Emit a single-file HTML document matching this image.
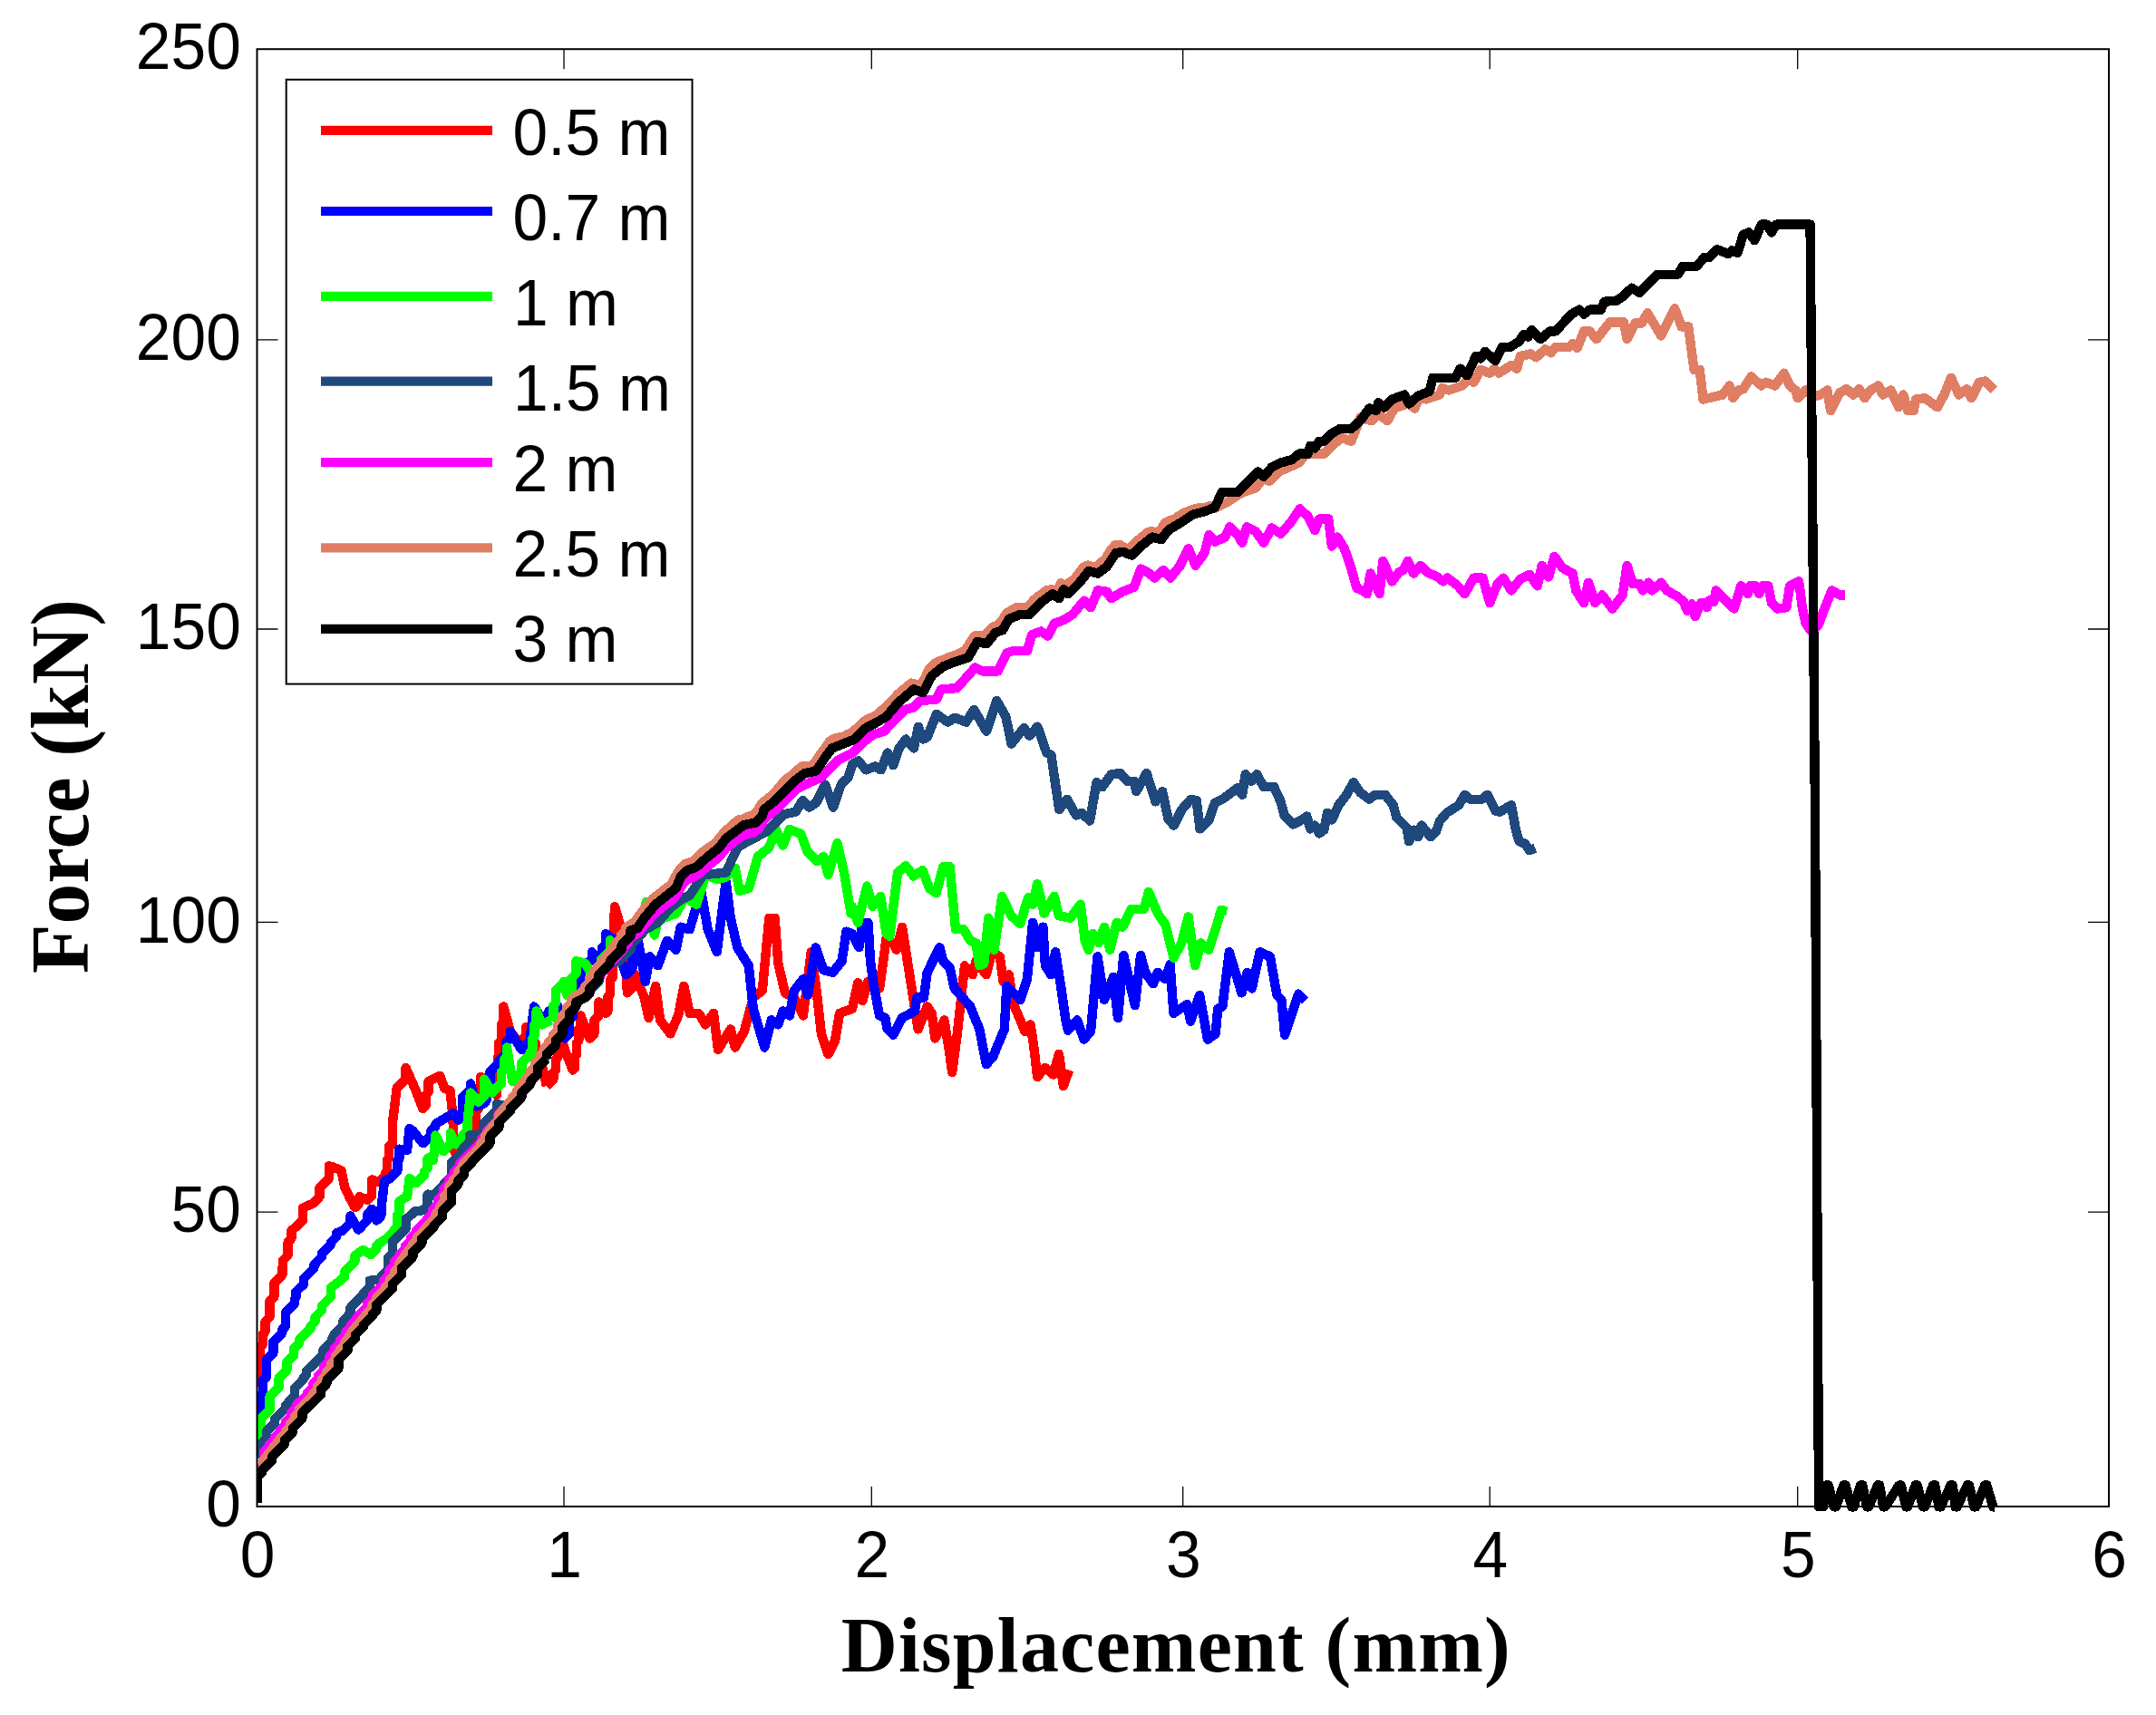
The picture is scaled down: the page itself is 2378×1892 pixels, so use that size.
<!DOCTYPE html>
<html><head><meta charset="utf-8"><title>Force vs Displacement</title>
<style>html,body{margin:0;padding:0;background:#fff}svg{display:block}.t{font-family:"Liberation Sans",Arial,sans-serif;font-size:69.5px;fill:#000}.b{font-family:"Liberation Serif","Times New Roman",serif;font-weight:bold;fill:#000}.c{fill:none;stroke-width:10.4;stroke-linejoin:round;stroke-linecap:butt}</style></head><body>
<svg width="2378" height="1892" viewBox="0 0 2378 1892">
<rect width="2378" height="1892" fill="#fff"/>
<defs><clipPath id="cp"><rect x="284.0" y="54.2" width="2062.5" height="1619.8"/></clipPath></defs>
<g clip-path="url(#cp)" shape-rendering="crispEdges">
<path class="c" stroke="#ff0000" stroke-width="11.9" d="M283.5 1521.0 L283.0 1525.5 L287.5 1485.5 L290.0 1482.9 L290.0 1471.7 L292.5 1469.2 L292.5 1457.9 L297.5 1452.9 L297.5 1435.4 L302.5 1430.4 L302.5 1415.3 L311.3 1406.6 L311.3 1405.3 L312.1 1390.3 L317.6 1384.8 L317.6 1370.2 L321.3 1366.5 L321.3 1357.7 L330.1 1350.2 L333.8 1346.4 L333.8 1332.7 L345.1 1327.7 L352.6 1320.1 L352.6 1310.1 L362.7 1300.1 L362.7 1286.3 L367.7 1287.6 L376.4 1291.3 L380.2 1310.1 L386.4 1322.7 L391.5 1332.2 L396.5 1327.2 L396.5 1320.1 L405.2 1323.9 L410.2 1318.9 L410.2 1301.4 L417.8 1303.9 L425.3 1296.4 L425.3 1293.8 L427.1 1292.0 L427.1 1279.4 L429.0 1277.6 L429.0 1265.0 L432.8 1261.3 L432.8 1240.0 L437.6 1200.6 L447.6 1190.5 L447.6 1178.0 L457.6 1200.6 L466.4 1223.1 L469.5 1220.0 L469.5 1208.1 L472.6 1204.9 L472.6 1193.0 L485.2 1186.8 L490.2 1200.6 L496.4 1203.1 L498.9 1225.6 L501.4 1270.7 L510.2 1275.7 L520.2 1265.7 L520.2 1250.6 L525.2 1245.6 L525.2 1225.6 L527.7 1223.1 L527.7 1206.8 L530.2 1204.3 L530.2 1188.0 L537.8 1190.5 L547.8 1208.1 L550.3 1150.5 L552.8 1148.0 L552.8 1130.4 L555.3 1127.9 L555.3 1110.4 L562.8 1137.9 L572.8 1150.5 L580.3 1142.9 L580.3 1132.9 L590.4 1150.5 L597.9 1175.5 L602.9 1198.1"/>
<path class="c" stroke="#ff0000" stroke-width="10.9" d="M602.9 1198.1 L610.4 1190.5 L610.4 1183.0 L612.9 1180.5 L612.9 1168.8 L615.4 1166.3 L615.4 1154.6 L617.9 1152.1 L617.9 1140.4 L622.9 1158.0 L631.7 1180.5 L633.9 1178.3 L633.9 1165.5 L636.1 1163.3 L636.1 1150.5 L638.3 1148.3 L638.3 1135.4 L640.4 1133.2 L640.4 1120.4 L650.5 1145.5 L655.5 1140.4 L655.5 1125.4 L660.5 1120.4 L660.5 1105.4 L668.0 1117.9 L670.5 1115.4 L670.5 1099.5 L673.0 1097.0 L673.0 1081.2 L675.5 1078.7 L675.5 1062.8 L678.0 1000.2 L685.5 1025.2 L690.5 1050.3 L691.8 1095.4 L700.6 1086.6 L700.6 1075.3 L710.6 1100.4 L715.6 1122.9 L723.1 1087.8 L728.1 1125.4 L739.4 1140.4 L748.1 1120.4 L754.4 1087.8 L760.7 1117.9 L770.7 1117.9 L778.2 1130.4 L787.0 1117.9 L792.0 1158.0 L805.8 1135.4 L810.8 1155.5 L820.8 1137.9 L830.8 1100.4 L840.8 1092.9 L848.3 1012.7 L854.6 1012.7 L858.3 1062.8 L865.9 1095.4 L875.9 1100.4 L885.9 1120.4 L894.7 1050.3 L900.9 1095.4 L905.9 1140.4 L913.5 1163.0 L921.0 1148.0 L926.0 1117.9 L940.0 1112.9 L946.3 1084.1 L951.3 1104.1 L957.5 1082.8 L965.0 1092.9 L970.1 1090.4 L977.6 1035.3 L985.1 1040.3 L988.8 1047.8 L995.1 1022.7 L1000.1 1055.3 L1006.4 1095.4 L1012.6 1135.4 L1022.7 1110.4 L1027.7 1117.9 L1031.4 1145.5 L1041.4 1125.4 L1046.4 1155.5 L1050.2 1183.0 L1055.2 1145.5 L1060.2 1100.4 L1064.0 1065.3 L1072.7 1075.3 L1076.5 1060.3 L1087.8 1075.3 L1094.0 1050.3 L1102.8 1055.3 L1106.6 1082.8 L1112.8 1075.3 L1117.8 1107.9 L1125.3 1125.4 L1130.4 1137.9 L1136.6 1130.4 L1140.4 1155.5 L1144.1 1188.0 L1152.9 1178.0 L1161.7 1185.5 L1167.9 1163.0 L1172.9 1198.1 L1179.2 1180.5"/>
<path class="c" stroke="#0000ff" stroke-width="11.9" d="M283.5 1553.0 L283.0 1558.1 L286.5 1554.6 L286.5 1540.6 L290.0 1537.1 L290.0 1523.0 L293.8 1519.3 L293.8 1500.5 L301.3 1493.0 L301.3 1480.4 L311.3 1470.4 L311.3 1466.7 L315.1 1462.9 L315.1 1447.9 L325.1 1437.9 L325.1 1432.9 L326.3 1431.6 L326.3 1425.3 L335.1 1416.6 L335.1 1410.3 L346.4 1399.0 L346.4 1395.3 L355.1 1386.5 L355.1 1382.8 L365.2 1372.7 L365.2 1370.2 L371.4 1364.0 L371.4 1360.2 L377.7 1357.7 L386.4 1349.0 L386.4 1341.4 L395.2 1356.5 L405.2 1346.4 L405.2 1340.2 L410.2 1333.9 L415.3 1346.4 L420.3 1341.4 L420.3 1335.2 L424.0 1302.6 L430.3 1300.1 L436.5 1293.8 L438.4 1292.0 L438.4 1280.7 L440.3 1278.8 L440.3 1267.6 L449.1 1268.8 L451.6 1245.0 L455.3 1247.5 L466.6 1261.3 L475.4 1252.5 L475.4 1247.5 L480.4 1242.5 L480.4 1240.0 L500.2 1228.1 L505.2 1235.6 L510.2 1230.6 L510.2 1210.6 L519.0 1201.8 L519.0 1195.5 L525.2 1220.6 L532.7 1218.1 L536.5 1214.3 L536.5 1200.6 L540.3 1196.8 L540.3 1183.0 L550.3 1173.0 L550.3 1170.5 L557.8 1163.0 L557.8 1150.5 L562.8 1145.5 L562.8 1137.9 L575.3 1158.0 L585.3 1148.0 L585.3 1140.4 L589.1 1110.4 L597.9 1125.4 L605.4 1117.9"/>
<path class="c" stroke="#0000ff" stroke-width="10.9" d="M605.4 1117.9 L605.4 1115.4 L615.4 1110.4 L622.9 1145.5 L627.9 1140.4 L627.9 1125.4 L632.1 1121.2 L632.1 1107.1 L636.3 1102.9 L636.3 1088.7 L640.4 1084.5 L640.4 1070.3 L653.0 1057.8 L653.0 1050.3 L660.5 1060.3 L664.2 1056.5 L664.2 1045.3 L668.0 1041.5 L668.0 1030.2 L675.5 1035.3 L685.5 1060.3 L690.5 1075.3 L697.4 1068.4 L697.4 1057.8 L704.3 1050.9 L704.3 1040.3 L711.8 1082.8 L716.8 1055.3 L725.6 1065.3 L735.6 1037.8 L745.6 1047.8 L750.6 1022.7 L760.7 1025.2 L773.2 982.7 L780.7 1025.2 L790.7 1050.3 L800.7 972.6 L805.8 1012.7 L813.3 1045.3 L825.8 1065.3 L830.8 1112.9 L843.3 1155.5 L850.8 1125.4 L858.3 1130.4 L863.4 1115.4 L870.9 1120.4 L875.9 1092.9 L885.9 1080.3 L890.9 1097.9 L899.7 1045.3 L908.4 1070.3 L918.5 1072.8 L928.5 1060.3 L933.5 1027.7 L940.0 1030.2 L947.5 1045.3 L951.3 1017.7 L957.5 1017.7 L960.0 1060.3 L963.8 1087.8 L970.1 1120.4 L976.3 1122.9 L978.8 1135.4 L985.1 1141.7 L995.1 1122.9 L1008.9 1115.4 L1011.4 1100.4 L1018.9 1100.4 L1022.7 1072.8 L1036.4 1045.3 L1040.2 1060.3 L1047.7 1067.8 L1052.7 1090.4 L1070.2 1110.4 L1080.3 1135.4 L1087.8 1174.3 L1095.3 1165.5 L1107.8 1135.4 L1110.3 1087.8 L1125.3 1102.9 L1132.9 1080.3 L1139.1 1017.7 L1144.1 1045.3 L1150.4 1022.7 L1152.9 1065.3 L1159.2 1075.3 L1164.2 1050.3 L1170.4 1090.4 L1175.4 1125.4 L1177.9 1136.7 L1188.0 1125.4 L1195.5 1146.7 L1203.0 1137.9 L1210.5 1055.3 L1218.0 1102.9 L1228.0 1077.8 L1233.0 1122.9 L1239.3 1054.0 L1251.8 1109.1 L1258.1 1054.0 L1263.1 1072.8 L1271.9 1085.3 L1276.9 1072.8 L1285.6 1080.3 L1290.6 1064.1 L1294.4 1117.9 L1309.4 1107.9 L1313.2 1126.7 L1323.2 1097.9 L1332.0 1146.7 L1340.7 1140.4 L1343.2 1112.9 L1348.3 1110.4 L1355.8 1050.3 L1369.5 1095.4 L1375.8 1072.8 L1380.8 1090.4 L1389.6 1050.3 L1400.9 1055.3 L1408.4 1097.9 L1413.4 1102.9 L1417.1 1141.7 L1432.2 1096.6 L1439.7 1104.1"/>
<path class="c" stroke="#00ff00" stroke-width="11.9" d="M283.5 1592.0 L283.0 1595.7 L285.3 1593.4 L285.3 1580.6 L287.5 1578.4 L287.5 1565.6 L297.5 1555.6 L297.5 1540.6 L307.6 1530.5 L307.6 1520.5 L316.3 1511.8 L316.3 1503.0 L323.8 1495.5 L323.8 1488.0 L330.1 1481.7 L330.1 1477.9 L342.6 1465.4 L342.6 1462.9 L347.6 1457.9 L347.6 1452.9 L355.1 1445.4 L355.1 1440.4 L365.2 1430.4 L365.2 1420.3 L375.2 1412.8 L380.2 1407.8 L380.2 1402.8 L387.7 1395.3 L391.5 1391.5 L391.5 1385.3 L400.2 1379.0 L409.0 1384.0 L415.3 1377.8 L415.3 1374.0 L427.8 1365.2 L435.3 1357.7 L435.3 1356.5 L437.8 1354.0 L437.8 1340.8 L440.3 1338.3 L440.3 1325.2 L449.1 1320.1 L451.6 1300.1 L459.1 1305.1 L467.8 1296.4 L467.8 1292.6 L471.6 1288.8 L471.6 1277.6 L477.9 1280.1 L480.4 1252.5 L489.1 1270.1 L496.7 1262.5 L496.7 1250.0 L502.9 1262.5 L510.4 1255.0 L510.4 1252.5 L515.4 1247.5 L515.4 1240.0 L519.0 1205.6 L527.7 1215.6 L534.0 1209.3 L534.0 1190.5 L542.8 1205.6 L552.8 1195.5 L552.8 1183.0 L555.9 1179.9 L555.9 1169.2 L559.0 1166.1 L559.0 1155.5 L565.3 1193.0 L575.3 1183.0 L575.3 1173.0 L585.3 1163.0 L585.3 1160.5 L587.4 1158.4 L587.4 1145.5 L589.5 1143.4 L589.5 1130.4 L591.6 1128.3 L591.6 1115.4 L597.9 1130.4 L607.9 1125.4"/>
<path class="c" stroke="#00ff00" stroke-width="10.9" d="M607.9 1125.4 L610.4 1122.9 L610.4 1109.1 L612.9 1106.6 L612.9 1092.9 L621.7 1084.1 L621.7 1082.8 L625.4 1097.9 L630.4 1092.9 L630.4 1079.1 L635.4 1074.1 L635.4 1060.3 L645.5 1062.8 L653.0 1075.3 L663.0 1065.3 L663.0 1059.0 L673.0 1049.0 L673.0 1037.3 L681.8 1050.3 L695.5 1036.5 L695.5 1028.2 L706.8 1016.7 L713.1 994.7 L718.1 1012.7 L721.8 1031.5 L725.6 1015.2 L745.6 1007.7 L755.7 990.2 L768.2 997.7 L778.2 965.1 L790.7 970.1 L800.7 967.6 L810.8 957.6 L815.8 982.7 L825.8 980.1 L835.8 945.1 L848.3 935.1 L855.8 915.0 L863.4 932.6 L870.9 915.0 L883.4 920.0 L890.9 940.1 L900.9 950.1 L908.4 945.1 L913.5 965.1 L923.5 930.1 L931.0 962.6 L938.5 1007.7 L940.0 1000.2 L946.3 1017.7 L956.3 977.6 L962.5 1000.2 L971.3 988.9 L977.6 1030.2 L981.3 1032.7 L990.1 962.6 L998.9 955.1 L1007.6 966.4 L1017.6 960.1 L1025.2 980.1 L1032.7 985.2 L1040.2 956.4 L1047.7 956.4 L1054.0 1025.2 L1062.7 1025.2 L1070.2 1037.8 L1076.5 1040.3 L1080.3 1065.3 L1085.3 1062.8 L1090.3 1012.7 L1096.5 1047.8 L1105.3 988.9 L1115.3 1010.2 L1125.3 1019.0 L1134.1 990.2 L1139.1 997.7 L1144.1 975.1 L1151.6 1007.7 L1162.9 988.9 L1167.9 1010.2 L1180.4 1012.7 L1191.7 997.7 L1196.7 1037.8 L1200.5 1047.8 L1205.5 1030.2 L1211.8 1040.3 L1218.0 1022.7 L1224.3 1047.8 L1231.8 1017.7 L1238.1 1022.7 L1248.1 1002.7 L1261.8 1002.7 L1266.9 983.9 L1276.9 1007.7 L1285.6 1020.2 L1294.4 1056.5 L1303.2 1040.3 L1310.7 1011.5 L1318.2 1065.3 L1324.5 1040.3 L1333.2 1047.8 L1340.7 1025.2 L1347.0 1003.9 L1353.3 1005.2"/>
<path class="c" stroke="#1f497d" stroke-width="11.9" d="M283.5 1604.2 L287.8 1604.2 L289.0 1592.0 L294.0 1587.0 L294.0 1579.1 L303.2 1569.9 L303.2 1565.3 L315.3 1553.2 L315.3 1550.3 L321.0 1544.0 L325.1 1539.9 L325.1 1531.5 L334.5 1522.1 L334.5 1520.2 L337.7 1517.0 L337.7 1512.7 L345.8 1505.2 L356.1 1494.9 L356.1 1490.1 L365.9 1480.3 L365.9 1477.6 L369.2 1471.3 L378.4 1462.1 L378.4 1457.5 L384.7 1451.2 L384.7 1450.0 L386.4 1448.3 L386.4 1442.9 L400.2 1429.1 L400.2 1427.8 L407.7 1420.3 L407.7 1412.8 L417.8 1411.6 L427.8 1401.5 L427.8 1387.8 L432.8 1382.8 L432.8 1370.2 L440.3 1362.7 L447.8 1355.2 L447.8 1345.2 L457.8 1336.4 L466.6 1335.2 L471.6 1330.2 L471.6 1317.6 L477.9 1318.9 L490.4 1306.4 L490.4 1305.1 L497.9 1297.6 L497.9 1282.6 L510.4 1270.1 L510.4 1267.6 L517.9 1260.0 L517.9 1252.5 L528.0 1252.5 L533.0 1247.5 L533.0 1240.0 L547.8 1225.2 L547.8 1218.1 L562.8 1220.6 L575.3 1208.1 L575.3 1203.1 L584.1 1194.3 L584.1 1189.3 L592.9 1180.5 L592.9 1175.5 L602.9 1165.5"/>
<path class="c" stroke="#1f497d" stroke-width="10.9" d="M602.9 1165.5 L602.9 1160.5 L612.9 1150.5 L612.9 1145.5 L620.4 1137.9 L620.4 1130.4 L627.9 1122.9 L627.9 1115.4 L645.5 1097.9 L660.5 1082.8 L660.5 1075.3 L673.0 1062.8 L683.0 1060.3 L695.5 1047.8 L695.5 1042.8 L708.1 1030.2 L708.1 1027.7 L725.6 1017.7 L738.1 1002.7 L750.6 992.7 L760.7 987.7 L775.7 965.1 L788.2 963.9 L800.7 962.6 L813.3 935.1 L825.8 927.6 L845.8 917.5 L863.4 900.0 L865.1 898.1 L877.6 895.6 L885.2 883.1 L892.7 890.6 L900.2 885.6 L910.2 865.6 L919.0 890.6 L927.7 865.6 L935.3 858.1 L940.3 843.0 L946.5 839.3 L955.3 849.3 L965.3 845.5 L971.6 849.3 L979.1 830.5 L985.3 844.3 L991.6 825.5 L999.1 815.5 L1007.9 825.5 L1012.9 801.7 L1017.9 815.5 L1022.9 813.0 L1032.9 787.9 L1045.5 796.7 L1053.0 791.7 L1065.5 796.7 L1074.3 782.9 L1088.0 806.7 L1099.3 772.9 L1109.3 790.4 L1115.6 820.5 L1129.4 802.9 L1135.6 811.7 L1144.4 801.7 L1154.4 830.5 L1159.4 833.0 L1168.2 893.1 L1176.9 881.8 L1187.0 899.4 L1193.2 896.9 L1202.0 905.6 L1209.5 863.1 L1215.8 868.1 L1225.8 854.3 L1235.8 853.0 L1243.3 861.8 L1250.8 861.8 L1253.3 873.1 L1264.6 853.0 L1274.6 884.4 L1282.1 873.1 L1288.4 903.1 L1294.7 910.6 L1303.4 893.1 L1313.5 881.8 L1319.7 883.1 L1323.5 914.4 L1333.5 904.4 L1340.0 885.6 L1350.0 880.6 L1365.0 869.3 L1370.1 876.8 L1373.8 854.3 L1380.1 861.8 L1386.3 854.3 L1393.8 868.1 L1405.1 868.1 L1412.6 884.4 L1416.4 899.4 L1426.4 909.4 L1433.9 905.6 L1441.4 900.6 L1445.2 914.4 L1450.2 910.6 L1455.2 919.4 L1460.2 915.7 L1464.0 896.9 L1469.0 904.4 L1476.5 888.1 L1485.3 876.8 L1492.8 863.1 L1500.3 874.3 L1510.3 881.8 L1516.6 876.8 L1527.8 876.8 L1536.6 888.1 L1540.4 901.9 L1551.6 913.2 L1554.1 928.2 L1559.2 915.7 L1564.2 923.2 L1567.9 910.6 L1577.9 923.2 L1584.2 916.9 L1588.0 905.6 L1595.5 896.9 L1609.2 888.1 L1615.5 876.8 L1621.8 881.8 L1634.3 881.8 L1640.6 876.8 L1649.3 894.4 L1654.3 895.6 L1666.9 888.1 L1671.9 915.7 L1675.6 928.2 L1681.9 930.7 L1686.9 938.2 L1693.2 935.7"/>
<path class="c" stroke="#ff00ff" stroke-width="11.9" d="M283.5 1620.0 L287.5 1620.0 L291.0 1616.5 L291.0 1601.4 L297.0 1595.4 L297.0 1593.5 L303.0 1587.5 L303.0 1585.7 L309.0 1579.7 L309.0 1577.4 L315.0 1571.4 L315.0 1568.6 L321.0 1562.6 L321.0 1558.9 L327.0 1552.9 L327.0 1550.3 L333.0 1544.4 L339.0 1538.4 L339.0 1536.9 L345.0 1530.9 L345.0 1527.3 L351.0 1521.3 L351.0 1518.0 L357.0 1512.0 L357.0 1507.8 L363.0 1501.8 L363.0 1497.3 L369.0 1491.3 L369.0 1487.7 L375.0 1481.7 L375.0 1478.7 L381.0 1472.7 L381.0 1469.8 L387.0 1463.8 L387.0 1461.8 L393.0 1455.8 L393.0 1454.5 L399.0 1447.6 L405.0 1441.6 L405.0 1437.9 L411.0 1431.9 L411.0 1428.4 L417.0 1422.4 L423.0 1416.4 L423.0 1412.5 L429.0 1406.5 L429.0 1402.2 L435.0 1396.2 L435.0 1391.8 L441.0 1385.8 L441.0 1383.4 L447.0 1377.4 L447.0 1375.0 L453.0 1369.0 L453.0 1366.0 L459.0 1360.0 L459.0 1357.8 L465.0 1351.8 L471.0 1345.8 L471.0 1344.7 L477.0 1338.7 L477.0 1335.2 L483.0 1329.2 L483.0 1324.2 L489.0 1318.2 L489.0 1311.6 L495.0 1305.6 L495.0 1301.9 L501.0 1295.9 L501.0 1292.9 L507.0 1286.9 L507.0 1283.9 L513.0 1277.5 L519.0 1271.9 L525.0 1266.3 L531.0 1260.3 L531.0 1256.5 L537.0 1250.5 L537.0 1247.8 L543.0 1242.3 L549.0 1236.3 L549.0 1230.3 L555.0 1223.7 L561.0 1217.7 L561.0 1216.6 L567.0 1210.6 L567.0 1208.8 L573.0 1202.8 L573.0 1201.2 L579.0 1194.3 L585.0 1188.3 L585.0 1185.4 L591.0 1179.4 L591.0 1174.6 L597.0 1168.6 L597.0 1166.2 L603.0 1160.2"/>
<path class="c" stroke="#ff00ff" stroke-width="10.9" d="M603.0 1160.2 L603.0 1157.8 L609.0 1151.8 L609.0 1149.5 L615.0 1143.5 L615.0 1139.3 L621.0 1133.3 L621.0 1128.0 L627.0 1122.0 L627.0 1116.8 L633.0 1110.8 L633.0 1107.5 L639.0 1102.9 L645.0 1100.3 L651.0 1094.3 L651.0 1089.7 L657.0 1083.7 L657.0 1081.7 L663.0 1075.7 L663.0 1074.5 L669.0 1068.2 L675.0 1061.4 L681.0 1055.4 L681.0 1053.8 L687.0 1047.8 L687.0 1046.0 L693.0 1040.0 L693.0 1036.9 L699.0 1032.2 L705.0 1028.6 L711.0 1020.3 L717.0 1013.7 L723.0 1006.9 L729.0 1002.2 L735.0 997.5 L741.0 993.2 L747.0 986.4 L753.0 975.1 L759.0 969.8 L765.0 967.6 L771.0 964.0 L777.0 958.6 L783.0 953.5 L789.0 948.8 L795.0 943.1 L801.0 935.4 L807.0 930.9 L813.0 926.4 L819.0 922.0 L825.0 919.8 L831.0 918.7 L837.0 914.5 L843.0 903.5 L849.0 898.8 L855.0 894.0 L861.0 888.1 L867.0 882.1 L873.0 876.2 L879.0 870.5 L887.7 865.6 L905.2 858.1 L917.7 845.5 L925.2 838.0 L940.3 830.5 L950.3 820.5 L962.8 810.5 L975.3 806.7 L985.3 795.4 L997.9 782.9 L1007.9 780.4 L1015.4 772.9 L1032.9 771.6 L1037.9 760.4 L1055.5 759.1 L1065.5 747.8 L1075.5 736.6 L1083.0 740.3 L1100.6 740.3 L1110.6 720.3 L1118.1 717.8 L1133.1 717.8 L1138.1 700.3 L1148.1 696.5 L1155.7 701.5 L1163.2 687.7 L1173.2 684.0 L1183.2 677.7 L1195.7 662.7 L1203.2 670.2 L1210.8 651.4 L1220.8 652.7 L1225.8 660.2 L1238.3 652.7 L1250.8 647.7 L1258.3 627.6 L1265.9 631.4 L1273.4 637.6 L1283.4 628.9 L1290.9 637.6 L1300.9 625.1 L1310.9 605.1 L1318.5 623.9 L1328.5 610.1 L1333.5 590.1 L1340.0 597.6 L1351.3 592.6 L1356.3 581.3 L1365.0 590.1 L1370.1 598.8 L1375.1 581.3 L1385.1 586.3 L1393.8 598.8 L1402.6 582.5 L1412.6 588.8 L1422.7 577.5 L1433.9 561.3 L1442.7 570.0 L1450.2 585.0 L1455.2 572.5 L1465.2 572.5 L1469.0 602.6 L1475.3 592.6 L1482.8 605.1 L1489.0 622.6 L1496.5 648.9 L1502.8 651.4 L1507.8 655.2 L1511.6 632.6 L1517.8 645.2 L1521.6 655.2 L1525.3 618.9 L1535.4 641.4 L1542.9 631.4 L1547.9 628.9 L1552.9 618.9 L1559.2 632.6 L1566.7 623.9 L1574.2 631.4 L1585.5 636.4 L1591.7 641.4 L1596.7 637.6 L1608.0 646.4 L1615.5 655.2 L1625.5 637.6 L1635.5 637.6 L1643.1 665.2 L1651.8 643.9 L1658.1 637.6 L1666.9 651.4 L1676.9 638.9 L1686.9 633.9 L1695.7 646.4 L1700.7 623.9 L1708.2 636.4 L1714.4 613.8 L1723.2 626.4 L1734.5 632.6 L1738.2 651.4 L1747.0 665.2 L1752.0 642.7 L1759.5 665.2 L1767.0 656.4 L1778.3 671.5 L1789.6 656.4 L1794.6 623.9 L1800.9 643.9 L1808.4 643.9 L1812.1 651.4 L1818.4 642.7 L1822.1 651.4 L1832.2 642.7 L1838.4 651.4 L1849.7 657.7 L1857.2 663.9 L1861.0 674.0 L1866.0 666.4 L1869.7 680.2 L1876.0 665.2 L1880.0 665.2 L1882.7 670.2 L1885.2 662.7 L1890.2 663.9 L1892.7 651.4 L1912.7 671.5 L1920.2 646.4 L1927.7 655.2 L1930.2 646.4 L1936.5 646.4 L1940.3 655.2 L1944.0 646.4 L1950.3 646.4 L1954.0 665.2 L1960.3 671.5 L1970.3 670.2 L1974.1 646.4 L1984.1 641.4 L1987.8 670.2 L1991.6 687.7 L1997.9 696.5 L2005.4 690.2 L2012.9 670.2 L2020.4 651.4 L2029.2 656.4 L2035.4 656.4"/>
<path class="c" stroke="#e07e64" stroke-width="11.9" d="M283.5 1625.5 L286.5 1625.5 L290.0 1622.0 L290.0 1612.2 L295.0 1605.3 L300.0 1598.7 L305.0 1592.2 L310.0 1585.7 L315.0 1580.7 L315.0 1578.4 L320.0 1573.4 L320.0 1571.0 L325.0 1566.0 L325.0 1562.9 L330.0 1557.9 L330.0 1555.0 L335.0 1550.0 L340.0 1545.1 L345.0 1540.1 L345.0 1537.7 L350.0 1532.7 L350.0 1529.7 L355.0 1524.7 L355.0 1522.0 L360.0 1517.0 L360.0 1513.6 L365.0 1508.6 L365.0 1504.9 L370.0 1499.9 L370.0 1496.1 L375.0 1491.1 L375.0 1488.6 L380.0 1483.6 L380.0 1481.2 L385.0 1476.2 L385.0 1473.7 L390.0 1466.8 L395.0 1460.7 L400.0 1454.8 L405.0 1449.1 L410.0 1444.1 L410.0 1439.8 L415.0 1434.8 L415.0 1432.1 L420.0 1427.1 L425.0 1422.1 L425.0 1419.9 L430.0 1414.9 L430.0 1411.5 L435.0 1406.5 L435.0 1402.8 L440.0 1397.8 L440.0 1394.3 L445.0 1387.3 L450.0 1380.3 L455.0 1375.3 L455.0 1372.9 L460.0 1367.9 L460.0 1365.4 L465.0 1359.5 L470.0 1354.4 L475.0 1348.4 L480.0 1343.4 L480.0 1340.1 L485.0 1335.1 L485.0 1331.2 L490.0 1326.2 L490.0 1320.0 L495.0 1315.0 L495.0 1309.2 L500.0 1304.2 L500.0 1301.7 L505.0 1296.7 L505.0 1293.3 L510.0 1288.3 L510.0 1285.5 L515.0 1279.7 L520.0 1274.5 L525.0 1269.5 L530.0 1264.5 L530.0 1262.2 L535.0 1257.2 L535.0 1253.4 L540.0 1247.0 L545.0 1240.5 L550.0 1235.5 L550.0 1230.3 L555.0 1224.2 L560.0 1218.0 L565.0 1213.0 L565.0 1210.9 L570.0 1205.9 L570.0 1203.8 L575.0 1197.2 L580.0 1190.9 L585.0 1185.9 L585.0 1182.0 L590.0 1177.0 L590.0 1172.4 L595.0 1167.4 L595.0 1164.8 L600.0 1159.8 L600.0 1157.2 L605.0 1152.2"/>
<path class="c" stroke="#e07e64" stroke-width="10.9" d="M605.0 1152.2 L605.0 1149.6 L610.0 1144.6 L610.0 1141.5 L615.0 1136.5 L615.0 1131.4 L620.0 1126.4 L620.0 1121.3 L625.0 1116.3 L625.0 1111.6 L630.0 1106.6 L630.0 1103.1 L635.0 1098.7 L640.0 1096.2 L645.0 1091.2 L645.0 1088.4 L650.0 1083.4 L650.0 1080.0 L655.0 1075.0 L655.0 1072.4 L660.0 1065.9 L665.0 1059.9 L670.0 1053.7 L675.0 1046.7 L680.0 1039.7 L685.0 1034.7 L685.0 1031.9 L690.0 1026.9 L690.0 1023.8 L695.0 1020.1 L700.0 1017.4 L705.0 1009.8 L710.0 1003.4 L715.0 997.2 L720.0 991.3 L725.0 987.5 L730.0 983.8 L735.0 979.7 L740.0 976.0 L745.0 967.0 L750.0 958.7 L755.0 953.5 L760.0 951.7 L765.0 950.4 L770.0 944.9 L775.0 940.0 L780.0 936.3 L785.0 933.2 L790.0 929.0 L795.0 922.5 L800.0 917.1 L805.0 912.5 L810.0 907.8 L815.0 904.4 L820.0 903.5 L825.0 900.8 L830.0 899.5 L835.0 895.6 L840.0 886.5 L845.0 882.6 L850.0 878.4 L855.0 874.0 L860.0 867.7 L865.0 861.8 L870.0 857.4 L875.0 854.3 L880.0 848.9 L885.0 845.2 L890.0 845.0 L895.0 844.5 L900.0 839.7 L905.0 832.0 L910.0 825.7 L915.0 817.8 L920.0 814.8 L925.0 813.5 L930.0 813.3 L935.0 810.0 L940.0 807.8 L945.0 803.4 L950.0 798.6 L955.0 794.5 L960.0 791.9 L965.0 790.3 L970.0 785.6 L975.0 781.6 L980.0 776.4 L985.0 772.1 L990.0 766.1 L995.0 761.9 L1000.0 758.0 L1005.0 753.6 L1010.0 754.8 L1015.0 756.5 L1020.0 748.4 L1025.0 737.6 L1030.0 732.7 L1035.0 729.6 L1040.0 728.1 L1045.0 725.7 L1050.0 723.8 L1055.0 722.3 L1060.0 720.0 L1065.0 717.4 L1070.0 708.8 L1075.0 701.6 L1080.0 701.3 L1085.0 701.9 L1090.0 696.5 L1095.0 691.5 L1100.0 689.9 L1105.0 685.1 L1110.0 676.7 L1115.0 673.6 L1120.0 670.6 L1125.0 669.8 L1130.0 671.4 L1135.0 667.8 L1140.0 662.2 L1145.0 658.0 L1150.0 654.5 L1155.0 651.0 L1160.0 650.3 L1165.0 654.0 L1170.0 643.3 L1175.0 646.6 L1180.0 642.3 L1185.0 639.1 L1190.0 632.4 L1195.0 625.7 L1200.0 623.6 L1205.0 625.5 L1210.0 624.3 L1215.0 620.3 L1220.0 615.6 L1225.0 606.9 L1230.0 601.2 L1235.0 600.8 L1240.0 604.2 L1245.0 605.3 L1250.0 600.5 L1255.0 596.1 L1260.0 592.2 L1265.0 587.8 L1270.0 585.8 L1275.0 588.0 L1280.0 584.8 L1285.0 577.0 L1290.0 574.3 L1295.0 572.9 L1300.0 569.3 L1305.0 566.5 L1310.0 564.1 L1315.0 562.2 L1320.0 560.8 L1325.0 559.8 L1330.0 559.8 L1335.0 557.7 L1340.0 560.7 L1355.0 553.2 L1370.1 543.2 L1385.1 538.2 L1392.6 528.2 L1400.1 530.7 L1410.1 520.6 L1432.7 510.6 L1440.2 500.6 L1460.2 500.6 L1470.2 490.6 L1480.3 483.1 L1490.3 486.8 L1497.8 468.1 L1500.3 460.5 L1512.8 464.3 L1520.3 456.8 L1530.4 464.3 L1537.9 450.5 L1552.9 445.5 L1560.4 450.5 L1565.4 438.0 L1572.9 440.5 L1588.0 435.5 L1590.5 428.0 L1598.0 430.5 L1613.0 425.5 L1620.5 416.7 L1625.5 421.7 L1633.0 407.9 L1643.1 411.7 L1648.1 406.7 L1653.1 411.7 L1666.9 402.9 L1673.1 406.7 L1676.9 392.9 L1688.1 390.4 L1694.4 394.2 L1704.4 385.4 L1710.7 389.2 L1715.7 382.9 L1730.7 382.9 L1734.5 379.1 L1739.5 384.1 L1747.0 365.4 L1753.3 365.4 L1760.8 374.1 L1775.8 355.3 L1790.8 355.3 L1794.6 374.1 L1803.4 356.6 L1810.9 356.6 L1817.1 345.3 L1832.2 370.4 L1847.2 340.3 L1854.7 360.4 L1862.2 360.4 L1868.5 407.9 L1874.7 407.9 L1878.5 440.5 L1900.2 435.5 L1907.7 425.5 L1911.5 439.2 L1917.7 430.5 L1922.7 429.2 L1931.5 415.5 L1942.8 425.5 L1947.8 421.7 L1957.8 425.5 L1967.8 411.7 L1974.1 425.5 L1980.3 430.5 L1982.8 439.2 L1991.6 430.5 L2000.4 438.0 L2007.9 435.5 L2015.4 430.5 L2019.2 453.0 L2029.2 433.0 L2036.7 429.2 L2044.2 435.5 L2050.5 429.2 L2056.7 439.2 L2063.0 430.5 L2071.8 425.5 L2076.8 435.5 L2085.5 430.5 L2094.3 449.3 L2099.3 435.5 L2104.3 453.0 L2110.6 453.0 L2113.1 440.5 L2123.1 439.2 L2136.9 449.3 L2144.4 435.5 L2151.9 416.7 L2160.7 435.5 L2169.4 429.2 L2174.4 439.2 L2183.2 421.7 L2189.5 420.5 L2199.5 430.5"/>
<path class="c" stroke="#000000" stroke-width="11.3" d="M283.5 1658.0 L283.5 1630.0 L289.0 1624.5 L289.0 1622.3 L299.8 1611.5 L299.8 1607.3 L313.8 1593.3 L313.8 1589.1 L323.2 1579.7 L323.2 1575.3 L333.3 1565.2 L333.3 1559.0 L344.6 1547.8 L354.0 1538.4 L354.0 1532.7 L360.5 1526.2 L360.5 1522.7 L373.4 1509.8 L373.4 1500.1 L383.4 1490.1 L383.4 1485.1 L391.8 1476.7 L391.8 1472.6 L401.2 1463.2 L401.2 1461.3 L411.0 1451.5 L411.0 1450.0 L415.3 1445.7 L415.3 1439.1 L425.3 1429.1 L432.8 1421.6 L432.8 1416.6 L442.8 1406.6 L442.8 1399.0 L455.3 1386.5 L455.3 1381.5 L465.3 1371.5 L465.3 1366.5 L472.9 1359.0 L479.1 1352.7 L479.1 1351.5 L487.9 1342.7 L487.9 1336.4 L497.9 1326.4 L497.9 1313.9 L505.4 1306.4 L505.4 1302.6 L511.7 1296.4 L511.7 1291.3 L520.4 1282.6 L520.4 1281.3 L530.5 1271.3 L540.5 1261.3 L540.5 1253.8 L548.0 1246.3 L550.3 1244.0 L550.3 1238.1 L562.8 1225.6 L562.8 1223.1 L575.3 1210.6 L575.3 1205.6 L585.3 1195.5 L585.3 1193.0 L592.9 1185.5 L592.9 1178.0 L602.9 1168.0"/>
<path class="c" stroke="#000000" stroke-width="10.3" d="M602.9 1168.0 L602.9 1163.0 L612.9 1153.0 L612.9 1148.0 L620.4 1140.4 L620.4 1132.9 L627.9 1125.4 L627.9 1117.9 L635.4 1110.4 L635.4 1105.4 L645.5 1100.4 L650.5 1095.4 L650.5 1090.4 L660.5 1080.3 L660.5 1075.3 L673.0 1062.8 L673.0 1060.3 L685.5 1047.8 L685.5 1042.8 L695.5 1032.7 L695.5 1026.5 L703.1 1024.0 L710.6 1012.7 L723.1 997.7 L735.6 987.7 L745.6 980.1 L750.6 967.6 L758.2 960.1 L768.2 956.4 L780.7 945.1 L793.2 935.1 L800.7 925.0 L810.8 917.5 L820.8 910.0 L833.3 907.5 L840.8 900.0 L842.6 893.1 L855.1 883.1 L867.6 870.6 L877.6 860.6 L887.7 853.0 L900.2 850.5 L910.2 835.5 L917.7 825.5 L930.2 820.5 L942.8 815.5 L955.3 802.9 L965.3 797.9 L977.8 790.4 L990.4 775.4 L1007.9 760.4 L1017.9 764.1 L1027.9 745.3 L1040.4 735.3 L1053.0 730.3 L1068.0 725.3 L1078.0 707.8 L1088.0 710.3 L1098.1 697.8 L1105.6 695.3 L1113.1 682.7 L1125.6 677.7 L1135.6 677.7 L1150.6 662.7 L1160.7 655.2 L1168.2 660.2 L1173.2 650.2 L1178.2 655.2 L1190.7 642.7 L1200.7 630.1 L1210.8 632.6 L1220.8 625.1 L1230.8 610.1 L1238.3 608.8 L1248.3 612.6 L1258.3 602.6 L1270.9 592.6 L1280.9 595.1 L1288.4 585.0 L1300.9 577.5 L1316.0 567.5 L1326.0 565.0 L1340.0 560.0 L1347.5 543.2 L1365.0 543.2 L1377.6 530.7 L1387.6 520.6 L1393.8 525.7 L1402.6 515.6 L1412.6 510.6 L1425.2 506.9 L1432.7 500.6 L1442.7 500.6 L1445.2 491.8 L1450.2 494.4 L1455.2 486.8 L1460.2 486.8 L1469.0 478.1 L1477.8 473.1 L1490.3 473.1 L1500.3 464.3 L1510.3 450.5 L1517.8 453.0 L1520.3 444.3 L1526.6 449.3 L1535.4 440.5 L1549.1 435.5 L1554.1 445.5 L1564.2 436.7 L1576.7 431.7 L1580.4 416.7 L1605.5 416.7 L1610.5 406.7 L1618.0 414.2 L1628.0 392.9 L1633.0 395.4 L1638.1 387.9 L1649.3 397.9 L1656.8 382.9 L1665.6 382.9 L1675.6 376.6 L1680.6 369.1 L1685.6 371.6 L1689.4 364.1 L1699.4 374.1 L1709.4 365.4 L1715.7 365.4 L1733.2 346.6 L1742.0 341.6 L1747.0 346.6 L1753.3 341.6 L1765.8 341.6 L1769.5 332.8 L1783.3 331.5 L1790.8 326.5 L1799.6 317.8 L1808.4 322.8 L1828.4 302.7 L1850.9 302.7 L1856.0 294.0 L1871.0 294.0 L1880.0 284.0 L1885.2 284.0 L1893.9 275.2 L1906.4 280.2 L1910.2 276.4 L1916.5 279.0 L1922.7 258.9 L1929.0 256.4 L1935.3 265.2 L1942.8 247.6 L1949.0 247.6 L1954.0 256.4 L1959.0 247.6 L1996.6 247.6 L1998.0 420.0 L2002.0 900.0 L2005.7 1600.0 L2005.9 1662.0 L2011.0 1662.0 L2014.7 1638.5 L2016.7 1638.5 L2023.0 1662.3 L2025.0 1662.3 L2033.4 1638.5 L2035.4 1638.5 L2042.5 1662.3 L2044.5 1662.3 L2052.2 1638.5 L2054.2 1638.5 L2059.2 1662.3 L2061.2 1662.3 L2071.0 1638.5 L2073.0 1638.5 L2077.3 1662.3 L2079.3 1662.3 L2094.7 1638.5 L2096.7 1638.5 L2102.3 1662.3 L2104.3 1662.3 L2112.7 1638.5 L2114.7 1638.5 L2121.1 1662.3 L2123.1 1662.3 L2132.2 1638.5 L2134.2 1638.5 L2138.5 1662.3 L2140.5 1662.3 L2151.7 1638.5 L2153.7 1638.5 L2156.6 1662.3 L2158.6 1662.3 L2169.8 1638.5 L2171.8 1638.5 L2177.4 1662.3 L2179.4 1662.3 L2189.3 1638.5 L2191.3 1638.5 L2198.3 1662.3 L2200.3 1662.3"/>
</g>
<rect x="283.5" y="54.2" width="2042.5" height="1607.8" fill="none" stroke="#000" stroke-width="2"/>
<path d="M622.0 1662.0V1640.0M622.0 54.2V76.2M961.3 1662.0V1640.0M961.3 54.2V76.2M1304.7 1662.0V1640.0M1304.7 54.2V76.2M1643.2 1662.0V1640.0M1643.2 54.2V76.2M1982.7 1662.0V1640.0M1982.7 54.2V76.2M283.5 1337.2H306.5M2326.0 1337.2H2303.0M283.5 1017.3H306.5M2326.0 1017.3H2303.0M283.5 694.0H306.5M2326.0 694.0H2303.0M283.5 374.9H306.5M2326.0 374.9H2303.0" stroke="#000" stroke-width="1.3" fill="none"/>
<text class="t" transform="translate(284.0 1739.6) scale(1 1.05)" text-anchor="middle">0</text>
<text class="t" transform="translate(622.5 1739.6) scale(1 1.05)" text-anchor="middle">1</text>
<text class="t" transform="translate(961.8 1739.6) scale(1 1.05)" text-anchor="middle">2</text>
<text class="t" transform="translate(1305.2 1739.6) scale(1 1.05)" text-anchor="middle">3</text>
<text class="t" transform="translate(1643.7 1739.6) scale(1 1.05)" text-anchor="middle">4</text>
<text class="t" transform="translate(1983.2 1739.6) scale(1 1.05)" text-anchor="middle">5</text>
<text class="t" transform="translate(2326.5 1739.6) scale(1 1.05)" text-anchor="middle">6</text>
<text class="t" transform="translate(265.8 1684.2) scale(1 1.05)" text-anchor="end">0</text>
<text class="t" transform="translate(265.8 1359.4) scale(1 1.05)" text-anchor="end">50</text>
<text class="t" transform="translate(265.8 1039.5) scale(1 1.05)" text-anchor="end">100</text>
<text class="t" transform="translate(265.8 716.2) scale(1 1.05)" text-anchor="end">150</text>
<text class="t" transform="translate(265.8 397.1) scale(1 1.05)" text-anchor="end">200</text>
<text class="t" transform="translate(265.8 76.4) scale(1 1.05)" text-anchor="end">250</text>
<text class="b" x="927.7" y="1844" font-size="86" textLength="738" lengthAdjust="spacing">Displacement (mm)</text>
<text class="b" transform="translate(96.6 1074) rotate(-90)" font-size="91" textLength="413" lengthAdjust="spacingAndGlyphs">Force (kN)</text>
<rect x="315.7" y="87.8" width="447.8" height="666.8" fill="#fff" stroke="#000" stroke-width="2"/>
<path d="M354 143.9H543" stroke="#ff0000" stroke-width="10.2" fill="none"/>
<text class="t" transform="translate(565.5 171.2) scale(1 1.05)">0.5 m</text>
<path d="M354 233.0H543" stroke="#0000ff" stroke-width="10.2" fill="none"/>
<text class="t" transform="translate(565.5 265.1) scale(1 1.05)">0.7 m</text>
<path d="M354 326.9H543" stroke="#00ff00" stroke-width="10.2" fill="none"/>
<text class="t" transform="translate(566.0 358.6) scale(1 1.05)">1 m</text>
<path d="M354 420.7H543" stroke="#1f497d" stroke-width="10.2" fill="none"/>
<text class="t" transform="translate(566.0 452.6) scale(1 1.05)">1.5 m</text>
<path d="M354 510.2H543" stroke="#ff00ff" stroke-width="10.2" fill="none"/>
<text class="t" transform="translate(565.5 542.1) scale(1 1.05)">2 m</text>
<path d="M354 604.3H543" stroke="#e07e64" stroke-width="10.2" fill="none"/>
<text class="t" transform="translate(565.5 635.7) scale(1 1.05)">2.5 m</text>
<path d="M354 693.8H543" stroke="#000000" stroke-width="10.2" fill="none"/>
<text class="t" transform="translate(565.5 729.7) scale(1 1.05)">3 m</text>
</svg></body></html>
